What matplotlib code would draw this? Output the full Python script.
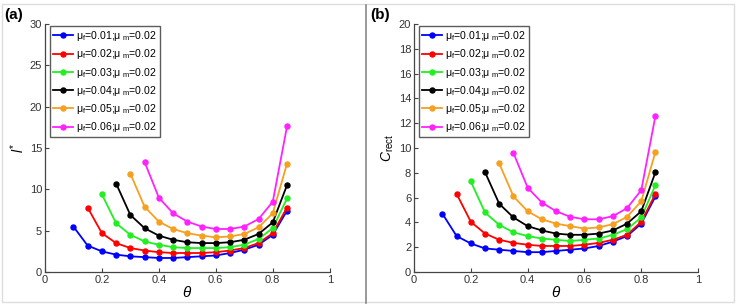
import matplotlib
matplotlib.use("Agg")
import matplotlib.pyplot as plt
from matplotlib.lines import Line2D

plt.rcParams["font.family"] = ["Liberation Sans", "DejaVu Sans"]
plt.rcParams["mathtext.fontset"] = "custom"
plt.rcParams["mathtext.rm"] = "Liberation Sans"
plt.rcParams["mathtext.it"] = "Liberation Sans:italic"

theta = [0.10, 0.15, 0.20, 0.25, 0.30, 0.35, 0.40, 0.45, 0.50,
         0.55, 0.60, 0.65, 0.70, 0.75, 0.80, 0.85]
mu_f = ["0.01", "0.02", "0.03", "0.04", "0.05", "0.06"]
colors = ["#0000ff", "#ff0000", "#22ee22", "#000000", "#f5a020", "#ff22ff"]

# panel (a): l* vs theta, each series starts later along theta
l_star = [
    [5.5, 3.2, 2.5, 2.1, 1.9, 1.8, 1.7, 1.7, 1.8, 1.9, 2.0, 2.3, 2.7, 3.3, 4.5, 7.4],
    [7.8, 4.7, 3.5, 2.9, 2.6, 2.4, 2.3, 2.3, 2.3, 2.4, 2.6, 2.9, 3.5, 4.7, 7.8],
    [9.4, 5.9, 4.5, 3.7, 3.3, 3.0, 2.9, 2.9, 2.9, 3.0, 3.3, 4.0, 5.3, 8.9],
    [10.7, 6.9, 5.3, 4.4, 3.9, 3.6, 3.5, 3.5, 3.6, 3.9, 4.6, 6.0, 10.5],
    [11.9, 7.9, 6.1, 5.2, 4.7, 4.4, 4.2, 4.3, 4.6, 5.4, 7.1, 13.1],
    [13.3, 9.0, 7.1, 6.1, 5.5, 5.2, 5.2, 5.5, 6.4, 8.5, 17.6],
]

# panel (b): C_rect vs theta
c_rect = [
    [4.7, 2.9, 2.3, 1.9, 1.8, 1.7, 1.6, 1.6, 1.7, 1.8, 1.9, 2.1, 2.45, 2.9, 3.9, 6.1],
    [6.3, 4.05, 3.1, 2.6, 2.35, 2.2, 2.1, 2.1, 2.1, 2.2, 2.35, 2.6, 3.0, 4.05, 6.3],
    [7.3, 4.8, 3.8, 3.2, 2.9, 2.7, 2.6, 2.5, 2.6, 2.7, 3.0, 3.45, 4.4, 7.0],
    [8.05, 5.5, 4.4, 3.7, 3.35, 3.1, 3.0, 3.0, 3.1, 3.35, 3.9, 4.9, 8.05],
    [8.75, 6.1, 4.9, 4.25, 3.9, 3.7, 3.5, 3.6, 3.85, 4.45, 5.7, 9.7],
    [9.6, 6.8, 5.6, 4.9, 4.45, 4.25, 4.25, 4.5, 5.15, 6.6, 12.6],
]

fig = plt.figure(figsize=(7.36, 3.06), dpi=100)
ax_a = fig.add_axes([0.061, 0.111, 0.387, 0.811])
ax_b = fig.add_axes([0.5625, 0.111, 0.386, 0.811])

axis_col = "#444444"


def draw_panel(ax, data, ymax, yticks, ylabel):
    for vals, col, mf in zip(data, colors, mu_f):
        xs = theta[len(theta) - len(vals):]
        ax.plot(xs, vals, "-o", color=col, lw=1.3, ms=3.6,
                label=r"$\mathregular{\mu_f}$=" + mf + r";$\mathregular{\mu_{\ m}}$=0.02")
    ax.set_xlim(0, 1)
    ax.set_ylim(0, ymax)
    ax.set_xticks([0, 0.2, 0.4, 0.6, 0.8, 1])
    ax.set_xticklabels(["0", "0.2", "0.4", "0.6", "0.8", "1"])
    ax.set_yticks(yticks)
    ax.tick_params(direction="in", length=3, labelsize=8, colors=axis_col,
                   labelcolor="#333333", pad=2)
    for s in ("top", "right"):
        ax.spines[s].set_visible(False)
    for s in ("left", "bottom"):
        ax.spines[s].set_color(axis_col)
        ax.spines[s].set_linewidth(0.9)
    ax.set_xlabel(r"$\theta$", fontsize=11, labelpad=0)
    ax.set_ylabel(ylabel, fontsize=10, labelpad=2)
    leg = ax.legend(loc="upper left", fontsize=7.6, frameon=True, fancybox=False,
                    edgecolor="#333333", borderpad=0.3, labelspacing=0.4,
                    handlelength=1.9, handletextpad=0.25, borderaxespad=0.2,
                    bbox_to_anchor=(0.01, 1.0))
    leg.get_frame().set_linewidth(1.0)


draw_panel(ax_a, l_star, 30, [0, 5, 10, 15, 20, 25, 30], r"$l^{*}$")
draw_panel(ax_b, c_rect, 20, list(range(0, 21, 2)), r"$C_{\mathregular{rect}}$")

fig.text(0.006, 0.951, "(a)", fontsize=11, fontweight="bold", va="center", ha="left")
fig.text(0.503, 0.951, "(b)", fontsize=11, fontweight="bold", va="center", ha="left")

# outer frame and divider between panels
fig.add_artist(Line2D([366 / 736, 366 / 736], [0.01, 0.985], color="#888888", lw=1.2))
fig.add_artist(plt.Rectangle((0.003, 0.012), 0.994, 0.976, fill=False,
                             edgecolor="#dddddd", lw=1.0, transform=fig.transFigure))

fig.savefig("out.png", dpi=100)
